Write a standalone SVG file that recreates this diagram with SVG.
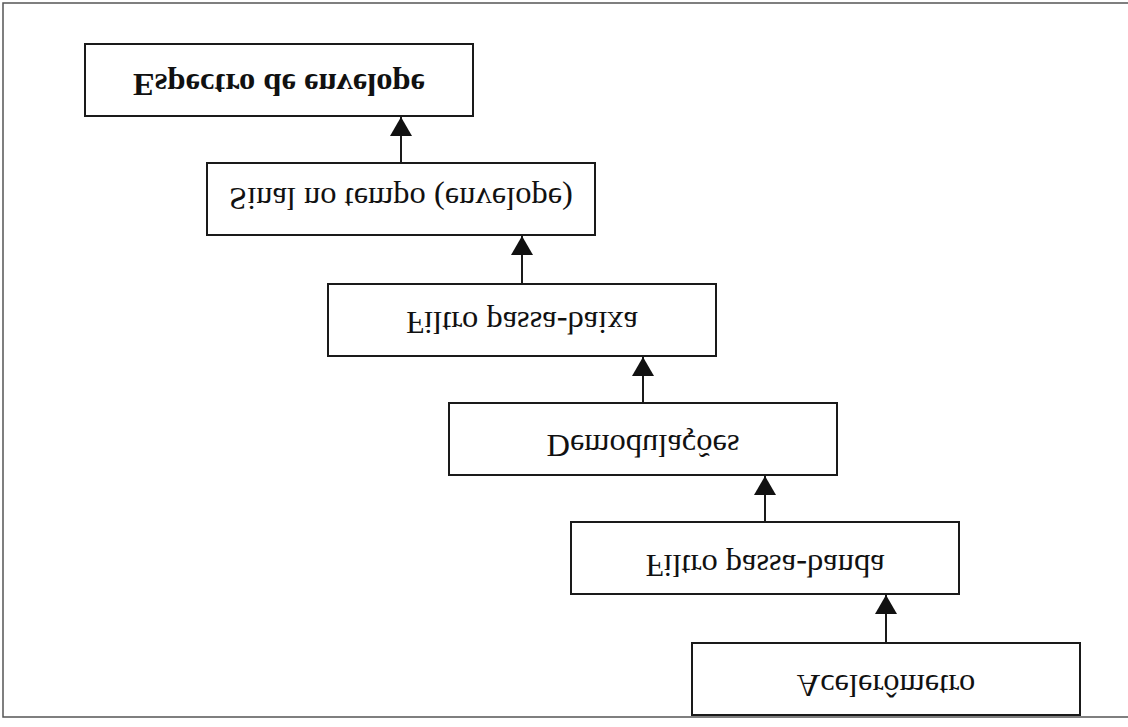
<svg xmlns="http://www.w3.org/2000/svg" width="1128" height="727" viewBox="0 0 1128 727">
  <style>
    .box { fill: #ffffff; stroke: #1a1a1a; stroke-width: 2; }
    .lbl { font-family: "Liberation Serif", "Times New Roman", serif; font-size: 32.5px; fill: #111111; text-anchor: middle; }
    .bold { font-weight: bold; }
    .conn { stroke: #1a1a1a; stroke-width: 2; fill: none; marker-end: url(#arrow); }
    .frame { fill: none; stroke: #555555; stroke-width: 1.5; }
  </style>
  <defs>
    <marker id="arrow" markerUnits="userSpaceOnUse" viewBox="0 0 19 22" markerWidth="19" markerHeight="22" refX="19" refY="11" orient="auto">
      <path d="M0,0 L19,11 L0,22 Z" fill="#111111"/>
    </marker>
  </defs>
  <rect width="1128" height="727" fill="#ffffff"/>
  <rect class="frame" x="3" y="3" width="1135" height="714"/>

  <g id="connectors">
    <line class="conn" x1="401" y1="163" x2="401" y2="117"/>
    <line class="conn" x1="522" y1="284" x2="522" y2="236"/>
    <line class="conn" x1="643" y1="403" x2="643" y2="357"/>
    <line class="conn" x1="765" y1="522" x2="765" y2="476"/>
    <line class="conn" x1="886" y1="643" x2="886" y2="595"/>
  </g>

  <g id="node-espectro">
    <rect class="box" x="85" y="44" width="388" height="72"/>
    <text class="lbl bold" transform="translate(279,74) scale(1,-1)">Espectro de envelope</text>
  </g>
  <g id="node-sinal">
    <rect class="box" x="207" y="163" width="388" height="72"/>
    <text class="lbl" transform="translate(401,188) scale(1,-1)">Sinal no tempo (envelope)</text>
  </g>
  <g id="node-passa-baixa">
    <rect class="box" x="328" y="284" width="388" height="72"/>
    <text class="lbl" transform="translate(522,312) scale(1,-1)">Filtro passa-baixa</text>
  </g>
  <g id="node-demodulacoes">
    <rect class="box" x="449" y="403" width="388" height="72"/>
    <text class="lbl" transform="translate(643,435) scale(1,-1)">Demodulações</text>
  </g>
  <g id="node-passa-banda">
    <rect class="box" x="571" y="522" width="388" height="72"/>
    <text class="lbl" transform="translate(765,555) scale(1,-1)">Filtro passa-banda</text>
  </g>
  <g id="node-acelerometro">
    <rect class="box" x="692" y="643" width="388" height="72"/>
    <text class="lbl" transform="translate(886,675) scale(1,-1)">Acelerômetro</text>
  </g>
</svg>
